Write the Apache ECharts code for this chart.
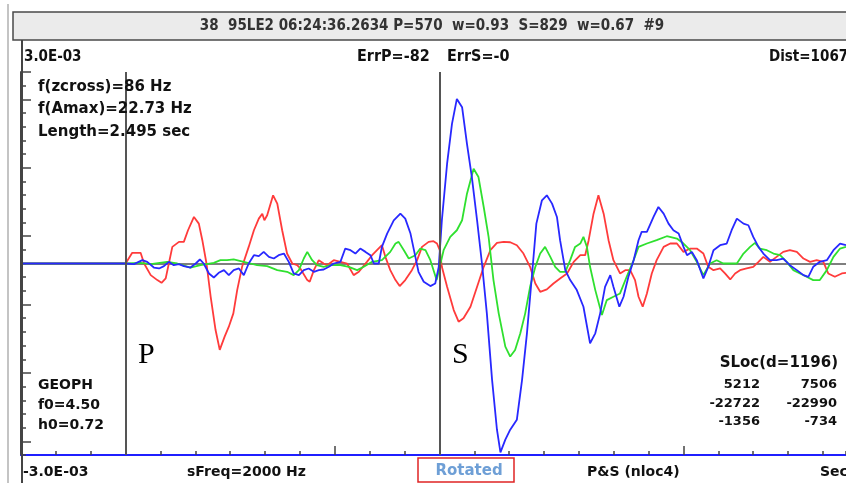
<!DOCTYPE html>
<html>
<head>
<meta charset="utf-8">
<script src="https://cdn.jsdelivr.net/npm/echarts@6/dist/echarts.min.js"></script>
<style>
  html, body { margin: 0; padding: 0; background: #ffffff; }
  #chart { width: 846px; height: 483px; }
</style>
</head>
<body>
<div id="chart"></div>
<script>
// Three-component geophone record around the P and S picks.
// Time in ms from window start, amplitude in units of 1e-4 (full scale = 3.0E-03).
const pickTimes = { P: 30, S: 120 };
const timeRange = [0, 236.6];
const ampRange = [-30, 30];
const ampLabels = ['3.0E-03', '-3.0E-03'];

const redTrace = [
  [0, 0], [30.0, 0], [31.9, 1.67], [34.3, 1.67], [35.3, 0], [37.2, -1.82], [39.1, -2.60], [40.3, -3.02],
  [41.5, -2.34], [42.4, 0], [43.4, 2.60], [45.3, 3.39], [46.7, 3.39], [47.9, 5.21], [49.6, 7.29],
  [51.0, 6.25], [52.0, 3.65], [53.2, 0], [54.4, -5.21], [55.8, -10.42], [57.0, -13.54], [58.4, -11.46],
  [59.6, -9.90], [60.9, -7.81], [62.0, -4.17], [63.4, -0.52], [65.3, 2.60], [66.8, 5.21], [68.2, 7.03],
  [69.2, 7.81], [69.8, 6.77], [70.6, 7.55], [72.3, 10.68], [73.5, 9.38], [74.9, 5.21], [76.3, 1.56],
  [77.8, 0], [79.2, -0.26], [80.1, -0.78], [82.1, -2.60], [82.8, -2.86], [84.0, -1.04], [85.4, 0.52],
  [86.8, 0], [87.8, -0.26], [89.7, 0.52], [91.6, 0.26], [93.5, 0], [95.4, -1.82], [96.9, -1.30],
  [99.2, 0.26], [100.7, 1.30], [102.1, 2.08], [103.5, 2.86], [104.5, 1.04], [105.9, -1.04], [107.4, -2.60],
  [108.6, -3.54], [110.2, -2.60], [112.1, -1.04], [113.6, 0.52], [115.0, 2.60], [116.9, 3.39], [118.3, 3.49],
  [119.3, 3.13], [120.1, 2.08], [120.7, -0.52], [122.2, -3.65], [124.1, -7.29], [125.5, -9.11],
  [126.9, -8.59], [128.9, -6.77], [130.8, -3.65], [132.7, -0.52], [134.6, 2.08], [136.5, 3.23],
  [138.4, 3.39], [140.3, 3.33], [142.2, 2.86], [144.1, 1.56], [146.0, -0.52], [147.5, -3.13], [148.9, -4.43],
  [150.8, -4.06], [152.7, -3.13], [154.6, -2.34], [156.6, -1.56], [158.5, 0.26], [160.4, 1.30], [161.8, 1.30],
  [162.8, 3.65], [164.2, 7.81], [165.6, 10.68], [167.1, 7.81], [168.5, 3.65], [169.9, 0.52], [171.8, -1.56],
  [173.3, -1.04], [174.7, -1.04], [176.1, -2.60], [177.1, -5.21], [178.3, -6.77], [179.5, -4.69],
  [180.9, -1.56], [182.3, 0.52], [184.3, 2.60], [186.2, 3.13], [188.1, 3.13], [190.0, 1.82], [191.9, 2.34],
  [193.8, 2.34], [195.7, 1.56], [197.1, -0.52], [198.6, -1.04], [200.5, -0.78], [201.9, -1.56], [203.4, -2.50],
  [204.8, -1.56], [206.2, -1.04], [208.1, -0.78], [210.0, -0.52], [211.5, 0.26], [212.9, 1.04], [214.8, 0.26],
  [216.7, 1.04], [218.6, 1.82], [220.5, 2.08], [222.5, 1.82], [224.4, 0.78], [226.3, 0.26], [228.2, 0.52],
  [230.1, 0.26], [231.5, -1.56], [233.4, -2.08], [235.4, -1.56], [236.6, -1.46]
];

const greenTrace = [
  [0, 0], [30.0, 0], [34.3, 0.10], [37.2, -0.10], [41.9, 0.26], [44.8, 0], [48.6, -0.63], [51.5, -0.26],
  [55.3, 0.10], [57.2, 0.52], [59.1, 0.52], [61.0, 0.63], [63.9, 0.26], [65.8, 0], [67.7, -0.26],
  [70.6, -0.42], [73.5, -1.04], [76.3, -1.30], [78.2, -1.82], [79.7, -1.04], [81.1, 0.78], [82.1, 1.82],
  [83.5, 0.52], [84.9, -0.26], [86.8, -0.52], [88.7, -0.26], [91.6, -0.26], [94.0, -0.52], [96.4, -1.04],
  [98.3, -0.52], [100.7, 0.26], [103.5, 0.52], [105.9, 1.82], [107.4, 3.13], [108.3, 3.39], [109.8, 2.08],
  [111.2, 0.78], [113.1, 1.30], [114.5, 2.34], [116.0, 2.08], [117.4, 0.52], [119.2, -2.60], [121.2, 2.08],
  [123.1, 4.17], [125.0, 5.21], [126.5, 6.77], [127.9, 10.94], [129.8, 14.84], [131.2, 13.54], [132.7, 8.85],
  [134.1, 4.17], [135.5, -2.60], [137.0, -7.81], [138.9, -13.02], [140.3, -14.58], [141.7, -13.54],
  [143.2, -10.94], [144.6, -7.81], [146.0, -3.65], [147.5, -0.52], [148.9, 1.56], [150.3, 2.60], [151.8, 1.04],
  [153.2, -0.52], [154.6, -1.30], [156.1, -1.30], [157.5, 0.52], [158.9, 2.60], [160.4, 3.13], [161.3, 4.17],
  [162.3, 2.60], [163.2, -0.52], [164.7, -4.17], [166.6, -8.07], [168.0, -5.73], [169.9, -5.21],
  [171.8, -4.69], [173.7, -2.08], [175.7, 0.52], [177.1, 2.60], [179.5, 3.13], [182.3, 3.65], [185.2, 4.27],
  [188.1, 3.91], [190.0, 3.13], [191.9, 2.08], [193.8, 0.26], [195.7, -1.82], [197.6, 0], [199.5, 0.52],
  [201.4, 0], [203.4, 0], [205.3, 0], [207.2, 1.56], [209.1, 2.60], [210.5, 3.23], [211.9, 2.34],
  [213.9, 2.08], [215.8, 1.56], [217.7, 1.30], [219.6, 0.26], [221.5, -1.04], [223.4, -1.56], [225.3, -2.08],
  [227.2, -2.60], [229.1, -2.60], [231.1, -1.04], [233.0, 1.04], [234.9, 2.34], [236.6, 2.60]
];

const blueTrace = [
  [0, 0], [30.0, 0], [32.4, -0.10], [34.8, 0.52], [36.2, 0.26], [38.1, -0.63], [39.6, -0.78], [41.0, -0.42],
  [42.4, 0.26], [43.8, -0.26], [45.3, -0.10], [46.7, -0.42], [48.6, -0.63], [50.1, 0], [51.3, 0.63],
  [52.4, 0], [53.9, -1.56], [55.3, -2.19], [56.7, -1.46], [58.2, -1.04], [59.6, -1.82], [61.0, -1.04],
  [62.5, -0.78], [63.9, -1.82], [65.3, 0], [66.8, 1.30], [68.2, 1.15], [69.6, 1.82], [71.1, 1.04],
  [72.5, 0.78], [73.9, 1.30], [75.4, 1.56], [76.8, 0.26], [78.2, -1.56], [79.7, -1.82], [81.1, -1.04],
  [82.5, -0.78], [84.0, -1.30], [85.4, -1.04], [86.8, -0.94], [88.3, -0.52], [89.7, 0], [91.6, 0.26],
  [93.0, 2.34], [94.5, 2.08], [95.9, 1.56], [97.3, 2.34], [98.8, 1.82], [100.2, 1.30], [101.2, 0],
  [102.6, 0], [103.5, 2.60], [105.0, 4.69], [106.9, 6.77], [108.8, 7.81], [110.2, 7.03], [111.7, 4.69],
  [113.1, 1.04], [114.0, -1.30], [115.5, -2.86], [117.4, -3.54], [118.8, -3.13], [119.8, -0.52],
  [120.7, 6.77], [122.2, 15.63], [123.6, 21.88], [125.0, 25.78], [126.5, 24.48], [127.9, 18.75],
  [129.3, 13.54], [130.8, 6.77], [132.2, 0], [133.6, -7.81], [135.1, -18.23], [136.5, -26.04],
  [137.5, -29.58], [138.9, -27.60], [140.3, -26.04], [142.2, -24.48], [143.7, -18.23], [145.1, -10.94],
  [146.5, -2.08], [147.8, 6.25], [149.4, 9.90], [150.8, 10.68], [152.3, 9.38], [153.7, 7.29], [154.6, 3.65],
  [156.1, -1.04], [157.5, -2.60], [159.4, -4.17], [161.3, -6.77], [163.2, -12.50], [164.7, -10.94],
  [166.1, -7.81], [167.5, -3.65], [169.0, -1.82], [169.9, -3.65], [171.6, -6.77], [172.8, -5.21],
  [174.2, -2.08], [175.7, 0.52], [177.1, 3.65], [178.0, 4.95], [179.5, 4.95], [181.4, 7.29], [182.8, 8.85],
  [184.3, 7.81], [185.7, 6.25], [187.1, 5.21], [188.6, 4.69], [190.0, 2.60], [191.0, 1.30], [192.4, 1.82],
  [193.8, 0.52], [195.7, -2.34], [197.1, -0.52], [198.6, 2.08], [200.5, 2.86], [202.4, 3.13], [203.8, 5.21],
  [205.3, 7.03], [207.2, 6.25], [208.6, 5.99], [210.0, 4.17], [211.5, 2.60], [212.9, 1.56], [214.8, 0.52],
  [216.7, 0.52], [218.6, 0.78], [220.5, -0.26], [222.5, -1.04], [224.4, -1.82], [225.8, -2.08],
  [227.2, -0.52], [229.1, 0.26], [231.1, 0.52], [233.0, 2.08], [234.9, 3.13], [236.6, 2.86]
];

const headerText = '38  95LE2 06:24:36.2634 P=570  w=0.93  S=829  w=0.67  #9';
const errTexts = ['ErrP=-82', 'ErrS=-0'];
const distText = 'Dist=1067';
const infoLines = ['f(zcross)=86 Hz', 'f(Amax)=22.73 Hz', 'Length=2.495 sec'];
const sensorLines = ['GEOPH', 'f0=4.50', 'h0=0.72'];
const slocTitle = 'SLoc(d=1196)';
const slocRows = [['5212', '7506'], ['-22722', '-22990'], ['-1356', '-734']];
const footerTexts = { freq: 'sFreq=2000 Hz', mode: 'Rotated', method: 'P&S (nloc4)', unit: 'Sec' };

const BOLD14 = 'bold 14px "DejaVu Sans", sans-serif';
const BOLD15 = 'bold 15px "DejaVu Sans", sans-serif';
const BOLD13 = 'bold 13px "DejaVu Sans", sans-serif';
const NARROW_FAMILY = '"Liberation Sans Narrow", "DejaVu Sans Condensed", "Arial Narrow", "Liberation Sans", sans-serif';
const NARROW15 = 'bold 15px ' + NARROW_FAMILY;
const NARROW16 = 'bold 16px ' + NARROW_FAMILY;
const SERIF = '30px "Liberation Serif", "DejaVu Serif", serif';

const chart = echarts.init(document.getElementById('chart'), null, { renderer: 'canvas' });

// 14 divisions per half scale; every fifth division carries a longer mark
const divisions = 14;
const minorStep = ampRange[1] / divisions;

function txt(x, y, text, font, opts) {
  return {
    type: 'text', x: x, y: y, z: 50,
    style: Object.assign({ text: text, font: font, fill: '#111', align: 'left', verticalAlign: 'middle' }, opts || {})
  };
}

const graphics = [
  { type: 'line', z: 40, shape: { x1: 8, y1: 4, x2: 8, y2: 483 }, style: { stroke: '#c4c4c4', lineWidth: 2 } },
  { type: 'rect', z: 40, shape: { x: 13, y: 12, width: 840, height: 28 }, style: { fill: '#ebebeb', stroke: '#4a4a4a', lineWidth: 1.5 } },
  { type: 'line', z: 41, shape: { x1: 22, y1: 40, x2: 22, y2: 483 }, style: { stroke: '#444', lineWidth: 2 } },
  txt(432, 26, headerText, NARROW15, { align: 'center', fill: '#333' }),
  txt(24, 57, ampLabels[0], NARROW15),
  txt(357, 57, errTexts[0], NARROW16),
  txt(447, 57, errTexts[1], NARROW16),
  txt(769, 57, distText, NARROW15),
  txt(23, 472, ampLabels[1], BOLD14),
  txt(187, 472, footerTexts.freq, BOLD14),
  txt(469, 471, footerTexts.mode, BOLD15, { align: 'center', fill: '#6e9fd6' }),
  { type: 'rect', z: 50, shape: { x: 418, y: 458, width: 96, height: 24 }, style: { fill: 'none', stroke: '#e02424', lineWidth: 1.5 } },
  txt(587, 472, footerTexts.method, BOLD14),
  txt(820, 472, footerTexts.unit, BOLD14),
  txt(138, 355, 'P', SERIF, { fill: '#000' }),
  txt(452, 355, 'S', SERIF, { fill: '#000' }),
  txt(838, 363, slocTitle, BOLD15, { align: 'right' })
];
infoLines.forEach(function (s, i) { graphics.push(txt(38, 87 + i * 22.5, s, BOLD15)); });
sensorLines.forEach(function (s, i) { graphics.push(txt(38, 385 + i * 20, s, BOLD14)); });
slocRows.forEach(function (row, i) {
  graphics.push(txt(760, 385 + i * 18.5, row[0], BOLD13, { align: 'right' }));
  graphics.push(txt(837, 385 + i * 18.5, row[1], BOLD13, { align: 'right' }));
});

function traceSeries(name, data, color, z) {
  return {
    name: name, type: 'line', data: data, xAxisIndex: 0, yAxisIndex: 0,
    showSymbol: false, symbol: 'none', smooth: false, z: z, silent: true,
    lineStyle: { color: color, width: 1.8 }
  };
}

const hidden = { show: false };
const tickStyle = { color: '#444', width: 1.5 };

// plot box
const plotLeft = 21, plotTop = 72, plotBottom = 28;
const plotWidth = 846 - plotLeft;
const plotHeight = 483 - plotTop - plotBottom;
const pxPerMs = plotWidth / (timeRange[1] - timeRange[0]);
const divPx = plotHeight / (2 * divisions);

// long time marks at 90 and 190 ms: a tick-only axis spanning exactly that stretch
const longTimeRange = [90, 190];

chart.setOption({
  animation: false,
  backgroundColor: '#ffffff',
  grid: [
    { left: plotLeft, right: 0, top: plotTop, bottom: plotBottom, containLabel: false },
    { left: plotLeft, right: 0, top: plotTop, bottom: plotBottom + divPx, containLabel: false },
    {
      left: plotLeft + longTimeRange[0] * pxPerMs,
      width: (longTimeRange[1] - longTimeRange[0]) * pxPerMs,
      top: plotTop, height: plotHeight, containLabel: false
    }
  ],
  xAxis: [
    {
      gridIndex: 0, type: 'value', min: timeRange[0], max: timeRange[1], interval: 10, position: 'bottom',
      axisLine: { show: true, onZero: false, lineStyle: { color: '#1f1fff', width: 2 } },
      axisTick: { show: true, inside: true, length: 4, lineStyle: tickStyle },
      axisLabel: hidden, splitLine: hidden
    },
    {
      gridIndex: 1, type: 'value', min: timeRange[0], max: timeRange[1], show: false
    },
    {
      gridIndex: 2, type: 'value', min: longTimeRange[0], max: longTimeRange[1], interval: 100, position: 'bottom',
      axisLine: { show: false, onZero: false },
      axisTick: { show: true, inside: true, length: 9, lineStyle: tickStyle },
      axisLabel: hidden, splitLine: hidden
    }
  ],
  yAxis: [
    {
      gridIndex: 0, type: 'value', min: ampRange[0], max: ampRange[1], interval: minorStep, position: 'left',
      axisLine: { show: true, onZero: false, lineStyle: { color: '#444', width: 2 } },
      axisTick: { show: true, inside: true, length: 5, lineStyle: tickStyle },
      axisLabel: hidden, splitLine: hidden
    },
    {
      // zero reference line
      gridIndex: 0, type: 'value', min: ampRange[0], max: ampRange[1], interval: ampRange[1], position: 'left',
      axisLine: { show: false, onZero: false }, axisTick: hidden, axisLabel: hidden,
      splitLine: { show: true, showMinLine: false, showMaxLine: false, lineStyle: { color: '#555', width: 1.6 } }
    },
    {
      // long marks: division index -13, -8, -3, 2, 7, 12 and the top of scale
      gridIndex: 1, type: 'value', min: 1 - divisions, max: divisions, interval: 5, position: 'left',
      axisLine: { show: false, onZero: false },
      axisTick: { show: true, inside: true, length: 10, lineStyle: tickStyle },
      axisLabel: hidden, splitLine: hidden
    },
    {
      gridIndex: 2, type: 'value', min: ampRange[0], max: ampRange[1], show: false
    }
  ],
  series: [
    {
      name: 'picks', type: 'line', data: [], xAxisIndex: 0, yAxisIndex: 0, z: 5, silent: true,
      markLine: {
        silent: true, symbol: ['none', 'none'], animation: false,
        label: { show: false },
        lineStyle: { color: '#555', width: 2, type: 'solid' },
        data: [{ xAxis: pickTimes.P }, { xAxis: pickTimes.S }]
      }
    },
    traceSeries('Radial', redTrace, '#ff3b3b', 2),
    traceSeries('Transverse', greenTrace, '#2fe02f', 3),
    traceSeries('Vertical', blueTrace, '#2828ff', 4)
  ],
  graphic: graphics
});
</script>
</body>
</html>
